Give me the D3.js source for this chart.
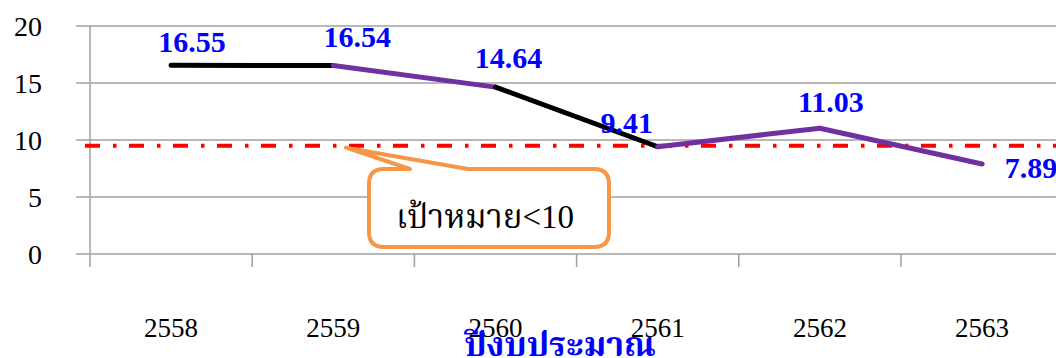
<!DOCTYPE html>
<html><head><meta charset="utf-8">
<script src="https://cdn.jsdelivr.net/npm/d3@7"></script>
<style>
html,body{margin:0;padding:0;background:#fff;overflow:hidden;}
svg{display:block;}
</style></head>
<body>
<svg id="chart" width="1056" height="358"></svg>
<script>
const categories = ["2558","2559","2560","2561","2562","2563"];
const values = [16.55, 16.54, 14.64, 9.41, 11.03, 7.89];
const yTicks = [0, 5, 10, 15, 20];
const targetValue = 9.5;
const targetLabel = "เป้าหมาย<10";
const axisTitle = "ปีงบประมาณ";

// styles / layout
const FONT = "'Liberation Serif', 'Noto Serif Thai', serif";
const segColors = ["#000000", "#7030A0", "#000000", "#7030A0", "#7030A0"];
const labelOffsets = [[21,-13],[24,-18],[13,-19],[-31,-14],[11,-16],[49,14]];

(function(){
const svg = d3.select("#chart");
const W = 1056, H = 358;
const pLeft = 90, pTop = 26, pBottom = 254, step = 162.2;

const x = d3.scaleBand().domain(categories).range([pLeft, pLeft + step*categories.length]).padding(0);
const y = d3.scaleLinear().domain([0, 20]).range([pBottom, pTop]);
const cx = c => x(c) + x.bandwidth()/2;

// gridlines
svg.append("g").selectAll("line").data(yTicks).join("line")
  .attr("x1", pLeft-14).attr("x2", W).attr("y1", d=>y(d)).attr("y2", d=>y(d))
  .attr("stroke", "#A0A0A0").attr("stroke-width", 1.5);

// y axis
const yAxis = d3.axisLeft(y).tickValues(yTicks).tickSize(0).tickPadding(48);
const yg = svg.append("g").attr("transform", `translate(${pLeft},0)`).call(yAxis)
  .attr("font-family", FONT);
yg.select(".domain").remove();
yg.selectAll("text").attr("font-size", 28).attr("fill", "#000")
  .attr("font-family", FONT).attr("dy", "0.34em");
svg.append("line").attr("x1", pLeft).attr("x2", pLeft).attr("y1", pTop).attr("y2", pBottom+13)
  .attr("stroke", "#A0A0A0").attr("stroke-width", 1.5);

// x axis ticks at band boundaries
const bounds = categories.map(c => x(c)).concat([x(categories[categories.length-1]) + x.bandwidth()]);
svg.append("g").selectAll("line").data(bounds.slice(1)).join("line")
  .attr("x1", d=>d).attr("x2", d=>d).attr("y1", pBottom).attr("y2", pBottom+13)
  .attr("stroke", "#A0A0A0").attr("stroke-width", 1.5);

// x labels
const xAxis = d3.axisBottom(x).tickSize(0).tickPadding(0);
const xg = svg.append("g").attr("transform", `translate(0,${pBottom})`).call(xAxis)
  .attr("font-family", FONT);
xg.select(".domain").remove();
xg.selectAll("text").attr("font-size", 27).attr("fill", "#000")
  .attr("font-family", FONT).attr("dy", null).attr("y", 83);

// target line
svg.append("line").attr("x1", 85).attr("x2", W).attr("y1", y(targetValue)).attr("y2", y(targetValue))
  .attr("stroke", "#FF0000").attr("stroke-width", 4).attr("stroke-dasharray", "15,13,3.5,12.5");

// data line segments
const pts = categories.map((c,i)=>[cx(c), y(values[i])]);
const line = d3.line();
svg.append("g").selectAll("path").data(d3.pairs(pts)).join("path")
  .attr("d", d=>line(d)).attr("fill","none")
  .attr("stroke", (d,i)=>segColors[i]).attr("stroke-width", 5).attr("stroke-linecap","round");

// data labels
svg.append("g").selectAll("text").data(values).join("text")
  .attr("x", (d,i)=>pts[i][0] + labelOffsets[i][0])
  .attr("y", (d,i)=>pts[i][1] + labelOffsets[i][1])
  .attr("text-anchor","middle").attr("font-size", 30).attr("font-weight","bold")
  .attr("font-family", FONT)
  .attr("fill","#0000FF").text(d=>d.toFixed(2));

// callout
const bx0 = 369, bx1 = 609, by0 = 169, by1 = 247, r = 15;
const tipX = 346, tipY = y(targetValue) + 2;
const callout = `M${bx0+r},${by0} L410,${by0} L${tipX},${tipY} L468,${by0} L${bx1-r},${by0}
 Q${bx1},${by0} ${bx1},${by0+r} L${bx1},${by1-r} Q${bx1},${by1} ${bx1-r},${by1}
 L${bx0+r},${by1} Q${bx0},${by1} ${bx0},${by1-r} L${bx0},${by0+r} Q${bx0},${by0} ${bx0+r},${by0} Z`;
svg.append("path").attr("d", callout).attr("fill","#fff")
  .attr("stroke","#F79646").attr("stroke-width",4).attr("stroke-linejoin","round");
svg.append("text").attr("x", (bx0+bx1)/2 - 4).attr("y", 228).attr("text-anchor","middle")
  .attr("font-family", FONT)
  .attr("font-size", 33).attr("fill","#000").text(targetLabel);

// axis title
svg.append("text").attr("x", 560).attr("y", 356).attr("text-anchor","middle")
  .attr("font-family", FONT)
  .attr("font-size", 34).attr("font-weight","bold").attr("fill","#0000FF").text(axisTitle);
})();
</script>
</body></html>
